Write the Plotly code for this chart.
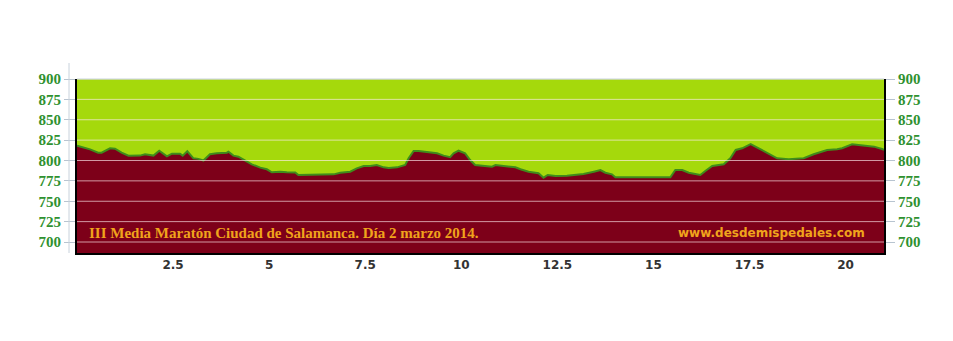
import plotly.graph_objects as go

km = [0.0, 0.03, 0.34, 0.55, 0.64, 0.86, 0.99, 1.16, 1.34, 1.64,
      1.77, 1.99, 2.14, 2.34, 2.47, 2.68, 2.75, 2.87, 3.03, 3.16,
      3.29, 3.46, 3.64, 3.9, 3.94, 4.07, 4.2, 4.38, 4.55, 4.77,
      4.94, 5.07, 5.29, 5.46, 5.68, 5.76, 6.68, 6.85, 7.11, 7.28,
      7.46, 7.63, 7.8, 7.98, 8.11, 8.33, 8.54, 8.63, 8.76, 8.89,
      9.11, 9.37, 9.54, 9.71, 9.8, 9.93, 10.1, 10.23, 10.36, 10.54,
      10.8, 10.89, 11.15, 11.41, 11.54, 11.75, 12.01, 12.14, 12.25, 12.45,
      12.75, 13.18, 13.45, 13.62, 13.75, 13.92, 14.01, 15.44, 15.57, 15.75,
      15.92, 16.22, 16.35, 16.53, 16.83, 17.0, 17.14, 17.31, 17.53, 17.74,
      17.96, 18.22, 18.52, 18.91, 19.17, 19.52, 19.78, 19.91, 20.17, 20.39,
      20.74, 20.95, 21.0]

elev = [818, 817.8, 813.7, 809.6, 809.6, 815, 814.5, 809.6, 805.9, 806,
        807.6, 806, 812, 805, 808.4, 808.4, 806, 811.3, 802.7, 802,
        800, 807.6, 808.8, 809.6, 810.8, 806, 804.7, 799.4, 795.3, 791.2,
        789.2, 785.5, 786.3, 785.5, 785.4, 782.2, 783, 785, 786.3, 790.4,
        793.3, 793.3, 794.5, 791.6, 790.8, 791.6, 794.5, 802.7, 811.7, 811.7,
        810, 808.8, 806, 804, 808.8, 812, 808.8, 800.6, 794.5, 793.3,
        792.4, 794.5, 793.3, 791.6, 789.2, 786.3, 784.3, 778.9, 782.2, 781,
        781.4, 783.4, 786.3, 788.3, 785, 783, 779.3, 779.3, 788.3, 788.3,
        785, 782.2, 787.1, 793.3, 795.3, 802.7, 812.9, 815, 820.2, 815,
        808.8, 802.7, 801.5, 802.7, 807.6, 812.9, 813.7, 815, 819.9, 819,
        817, 814.1, 813]

x_ticks = [2.5, 5, 7.5, 10, 12.5, 15, 17.5, 20]
x_tick_labels = ["2.5", "5", "7.5", "10", "12.5", "15", "17.5", "20"]
y_ticks = [700, 725, 750, 775, 800, 825, 850, 875, 900]

title_text = "III Media Maratón Ciudad de Salamanca. Día 2 marzo 2014."
site_text = "www.desdemispedales.com"

X_RANGE = [0, 21.0]
Y_RANGE = [686.5, 900]

GREEN_BG = "#a5d90c"
MAROON = "#7d0019"
LINE_GREEN = "#3f8c1c"
LABEL_GREEN = "#2f9130"
ORANGE = "#f0a41c"

fig = go.Figure()
fig.add_trace(go.Scatter(
    x=km, y=elev, mode="lines", fill="tozeroy",
    fillcolor=MAROON, line=dict(color=LINE_GREEN, width=2),
    hoverinfo="skip", showlegend=False))
fig.add_trace(go.Scatter(
    x=km, y=elev, mode="lines", yaxis="y2",
    line=dict(width=0), hoverinfo="skip", showlegend=False))

ytick_font = dict(family="Liberation Serif", size=15, color=LABEL_GREEN, weight="bold")

fig.update_layout(
    width=953, height=341,
    margin=dict(l=77, r=69, t=79, b=88),
    paper_bgcolor="white",
    plot_bgcolor=GREEN_BG,
    xaxis=dict(range=X_RANGE, tickvals=x_ticks, ticktext=x_tick_labels,
               showgrid=False, zeroline=False, showline=True,
               linecolor="black", linewidth=2, ticks="",
               tickfont=dict(family="DejaVu Sans", size=12, color="#333333", weight="bold")),
    yaxis=dict(range=Y_RANGE, tickvals=y_ticks, showgrid=False, zeroline=False,
               showline=True, linecolor="black", linewidth=2,
               ticks="outside", ticklen=11, tickcolor="#b8c4d0", tickwidth=1,
               tickfont=ytick_font),
    yaxis2=dict(range=Y_RANGE, tickvals=y_ticks, overlaying="y", side="right",
                showgrid=False, zeroline=False, showline=True,
                linecolor="black", linewidth=2,
                ticks="outside", ticklen=9, tickcolor="#b8c4d0", tickwidth=1,
                tickfont=ytick_font),
)

shapes = []
for v in y_ticks:
    shapes.append(dict(type="line", xref="paper", yref="y", x0=0, x1=1, y0=v, y1=v,
                       line=dict(color="rgba(255,235,240,0.65)", width=1), layer="above"))
# top border
shapes.append(dict(type="line", xref="paper", yref="paper", x0=0, x1=1, y0=1, y1=1,
                   line=dict(color="#c8d2dc", width=1), layer="above"))
# light left axis guide line
shapes.append(dict(type="line", xref="paper", yref="paper", x0=-8 / 807, x1=-8 / 807,
                   y0=0, y1=1.092, line=dict(color="#c8d2dc", width=1)))
fig.update_layout(shapes=shapes)

fig.add_annotation(text=title_text, xref="paper", yref="paper",
                   x=10 / 807, y=10 / 174, xanchor="left", yanchor="bottom",
                   showarrow=False,
                   font=dict(family="Liberation Serif", size=15, color=ORANGE, weight="bold"))
fig.add_annotation(text=site_text, xref="paper", yref="paper",
                   x=(867 - 77) / 807, y=11 / 174, xanchor="right", yanchor="bottom",
                   showarrow=False,
                   font=dict(family="Comic Sans MS, DejaVu Sans", size=12, color=ORANGE, weight="bold"))

fig.write_html("out.html")
